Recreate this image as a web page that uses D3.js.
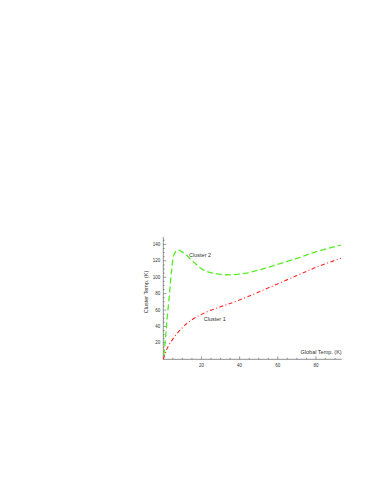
<!DOCTYPE html>
<html>
<head>
<meta charset="utf-8">
<script src="https://cdn.jsdelivr.net/npm/d3@7"></script>
<style>
  body { margin: 0; background: #fff; }
  text { font-family: "Liberation Sans", Arial, sans-serif; }
</style>
</head>
<body>
<div id="chart"></div>
<script>
// Global temp (K) vs cluster temp (K)
const cluster1X = [0, 1, 2, 3.5, 6, 9, 12, 17, 23, 30, 35, 44, 56, 70, 80, 93];
const cluster1Y = [0, 7, 13, 19.5, 28, 36, 43, 51, 58, 64, 68, 76, 88, 102, 112, 123];
const cluster2X = [0.3, 1, 1.8, 3.1, 4.4, 5.7, 7.5, 10.4, 15.7, 20.9, 26, 33, 40, 48.8, 59, 70, 80, 93];
const cluster2Y = [5, 22, 44, 76, 109, 128, 133, 130, 119, 109, 105, 103, 103.7, 108, 115, 123, 131, 139];
const xTicks = [20, 40, 60, 80];
const yTicks = [20, 40, 60, 80, 100, 120, 140];
const seriesNames = ["Cluster 1", "Cluster 2"];

const width = 374, height = 484;
const svg = d3.select("#chart").append("svg")
  .attr("width", width)
  .attr("height", height);

const x = d3.scaleLinear().domain([0, 93.5]).range([163.3, 341.7]);
const y = d3.scaleLinear().domain([0, 149]).range([359.3, 237]);

const axisColor = "#444";

// x axis
const gx = svg.append("g").attr("transform", `translate(0,${y(0)})`);
gx.append("line").attr("x1", x(0)).attr("x2", x(93.5)).attr("stroke", axisColor).attr("stroke-width", 0.6);
gx.selectAll(".minor").data(d3.range(5, 93, 5).filter(d => d % 20 !== 0)).enter().append("line")
  .attr("x1", d => x(d)).attr("x2", d => x(d)).attr("y1", 0).attr("y2", -1.5)
  .attr("stroke", axisColor).attr("stroke-width", 0.5);
gx.selectAll(".major").data(xTicks).enter().append("line")
  .attr("x1", d => x(d)).attr("x2", d => x(d)).attr("y1", 0).attr("y2", -3)
  .attr("stroke", axisColor).attr("stroke-width", 0.5);
gx.selectAll(".lab").data(xTicks).enter().append("text")
  .attr("x", d => x(d)).attr("y", 7.5)
  .attr("text-anchor", "middle").attr("font-size", 4.5).attr("fill", "#333")
  .text(d => d);

// y axis
const gy = svg.append("g").attr("transform", `translate(${x(0)},0)`);
gy.append("line").attr("y1", y(0)).attr("y2", y(149)).attr("stroke", axisColor).attr("stroke-width", 0.6);
gy.selectAll(".minor").data(d3.range(5, 149, 5).filter(d => d % 20 !== 0)).enter().append("line")
  .attr("y1", d => y(d)).attr("y2", d => y(d)).attr("x1", 0).attr("x2", 1.5)
  .attr("stroke", axisColor).attr("stroke-width", 0.5);
gy.selectAll(".major").data(yTicks).enter().append("line")
  .attr("y1", d => y(d)).attr("y2", d => y(d)).attr("x1", 0).attr("x2", 3)
  .attr("stroke", axisColor).attr("stroke-width", 0.5);
gy.selectAll(".lab").data(yTicks).enter().append("text")
  .attr("x", -3).attr("y", d => y(d)).attr("dy", "0.35em")
  .attr("text-anchor", "end").attr("font-size", 4.5).attr("fill", "#333")
  .text(d => d);

// axis titles
svg.append("text")
  .attr("x", x(93.5)).attr("y", y(0) - 5)
  .attr("text-anchor", "end").attr("font-size", 5.5).attr("fill", "#333")
  .text("Global Temp. (K)");
svg.append("text")
  .attr("transform", `translate(148,${y(82)}) rotate(-90)`)
  .attr("text-anchor", "middle").attr("font-size", 5.5).attr("fill", "#333")
  .text("Cluster Temp. (K)");

const line = d3.line().x(d => x(d[0])).y(d => y(d[1])).curve(d3.curveCatmullRom);

svg.append("path")
  .datum(d3.zip(cluster2X, cluster2Y))
  .attr("d", line)
  .attr("fill", "none")
  .attr("stroke", "#55ee22")
  .attr("stroke-width", 1.3)
  .attr("stroke-dasharray", "6,3");

svg.append("path")
  .datum(d3.zip(cluster1X, cluster1Y))
  .attr("d", line)
  .attr("fill", "none")
  .attr("stroke", "#ff2222")
  .attr("stroke-width", 1.1)
  .attr("stroke-dasharray", "4,2.5,1,2.5");

// curve labels
svg.append("text").attr("x", x(13.5)).attr("y", y(127)).attr("dy", "0.35em")
  .attr("font-size", 5.5).attr("fill", "#333").text(seriesNames[1]);
svg.append("text").attr("x", x(21.2)).attr("y", y(49.4)).attr("dy", "0.35em")
  .attr("font-size", 5.5).attr("fill", "#333").text(seriesNames[0]);
</script>
</body>
</html>
